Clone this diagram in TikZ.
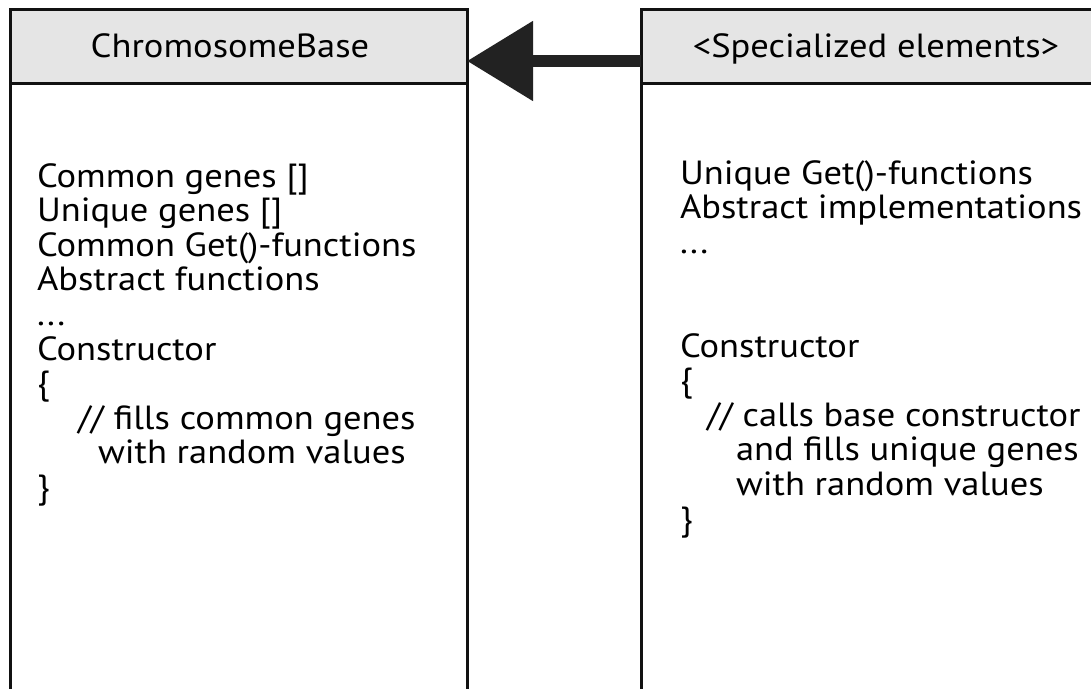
\documentclass[tikz,border=0pt]{standalone}
\usepackage{fontspec}
\setmainfont{PT Sans}[FakeStretch=1.09]
\usetikzlibrary{arrows.meta}
\definecolor{hdrgray}{HTML}{E5E5E5}
\definecolor{arrowgray}{HTML}{222222}
\definecolor{linegray}{HTML}{111111}
\tikzset{
  boxframe/.style={draw=linegray, line width=3pt, outer sep=0pt, inner sep=0pt, anchor=north west},
  hdrbox/.style={draw=linegray, fill=hdrgray, line width=2.5pt, outer sep=0pt, inner sep=0pt, anchor=north west},
  txt/.style={anchor=base west, inner sep=0pt, outer sep=0pt, font=\fontsize{33.5}{35}\selectfont},
  hdrtxt/.style={anchor=base, inner sep=0pt, outer sep=0pt, font=\fontsize{33.5}{35}\selectfont},
  inherit/.style={draw=arrowgray, line width=12pt, -{Triangle[length=66pt 0 0, width=77pt 0 0]}}
}
\begin{document}
\begin{tikzpicture}[x=1pt, y=-1pt]
\useasboundingbox (0,0) rectangle (1091,688);
\clip (0,0) rectangle (1091,688);
\fill[white] (0,0) rectangle (1091,688);
% headers
\node[hdrbox, minimum width=456.5pt, minimum height=74pt] (baseh) at (10.5,9.5) {};
\node[hdrbox, minimum width=460pt, minimum height=74pt] (spech) at (641,9.5) {};
% frames
\node[boxframe, minimum width=456.5pt, minimum height=720pt] (base) at (10.5,9.5) {};
\node[boxframe, minimum width=460pt, minimum height=720pt] (spec) at (641,9.5) {};
% header texts
\node[hdrtxt] (basetitle) at (230,57) {ChromosomeBase};
\node[hdrtxt] (spectitle) at (876,57) {<Specialized elements>};
% arrow
\coordinate (arrowy) at (0,61);
\draw[inherit] (spec.west |- arrowy) -- (base.east |- arrowy);
% left body
\node[txt] (l1) at (37,187) {Common genes []};
\node[txt] (l2) at (37,221.6) {Unique genes []};
\node[txt] (l3) at (37,256.2) {Common Get()-functions};
\node[txt] (l4) at (37,290.8) {Abstract functions};
\node[txt] (l5) at (37,325.4) {...};
\node[txt] (l6) at (37,360) {Constructor};
\node[txt] (l7) at (37,394.6) {\{};
\node[txt] (l8) at (78,429.2) {// fills common genes};
\node[txt] (l9) at (98,463.8) {with random values};
\node[txt] (l10) at (37,498.4) {\}};
% right body
\node[txt] (r1) at (680,184) {Unique Get()-functions};
\node[txt] (r2) at (680,218.6) {Abstract implementations};
\node[txt] (r3) at (680,253.2) {...};
\node[txt] (r4) at (680,357) {Constructor};
\node[txt] (r5) at (680,391.6) {\{};
\node[txt] (r6) at (707,426.2) {// calls base constructor};
\node[txt] (r7) at (736,460.8) {and fills unique genes};
\node[txt] (r8) at (736,495.4) {with random values};
\node[txt] (r9) at (680,530) {\}};
\end{tikzpicture}
\end{document}
